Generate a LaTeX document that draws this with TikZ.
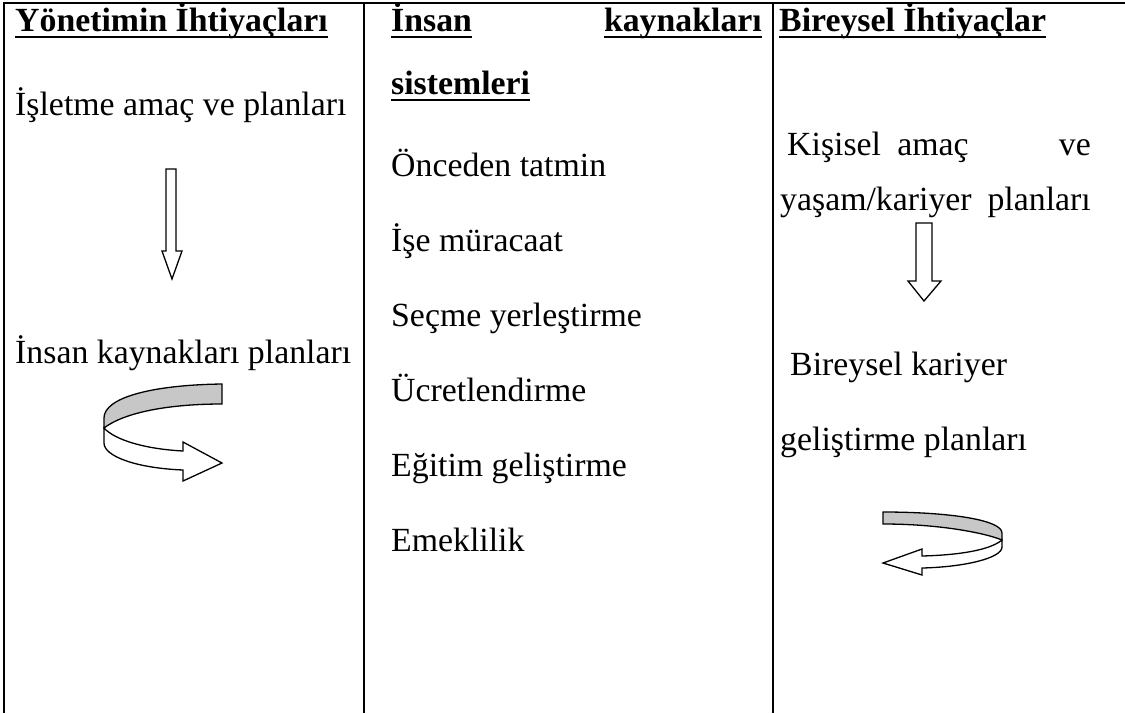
\documentclass[tikz,border=0pt]{standalone}
\usepackage{fontspec}
\setmainfont{Liberation Serif}
\begin{document}
\begin{tikzpicture}[x=1pt,y=-1pt,
  txt/.style={inner sep=0pt,anchor=base west,font=\fontsize{33.8}{40}\selectfont},
  txte/.style={txt,anchor=base east},
  hdr/.style={txt,font=\fontsize{33.8}{40}\selectfont\bfseries},
  hdre/.style={hdr,anchor=base east},
  rule/.style={line width=2.5pt},
  uline/.style={line width=2.6pt},
  arrowbody/.style={draw=black,line width=1.3pt,line join=miter,fill=white},
  ribbonback/.style={draw=black,line width=1.3pt,fill=black!22}]
\useasboundingbox (0,0) rectangle (1125,713);

% table frame
\draw[rule] (3,3) -- (1125,3);
\draw[rule] (4,3) -- (4,713);
\draw[rule] (364,3) -- (364,713);
\draw[rule] (773,3) -- (773,713);

% column 1
\node[hdr] (h1) at (15,31) {Yönetimin İhtiyaçları};
\draw[uline] ([yshift=-6pt]h1.base west) -- ([yshift=-6pt]h1.base east);
\node[txt] (a1) at (15,115) {İşletme amaç ve planları};
\node[txt] (a2) at (15,363) {İnsan kaynakları planları};

\draw[arrowbody] (166,169) -- (176,169) -- (176,251) -- (182,251) -- (172,279)
  -- (162,251) -- (166,251) -- cycle;

\draw[ribbonback] (222,384) .. controls (150,385) and (104,398) .. (104,418)
  -- (104,428) .. controls (125,412) and (170,404) .. (222,404) -- cycle;
\draw[arrowbody] (104,428) .. controls (115,440) and (145,449) .. (183,451)
  -- (183,442) -- (222,463) -- (183,481) -- (183,470)
  .. controls (135,468) and (104,456) .. (104,443) -- cycle;

% column 2
\node[hdr] (h2a) at (391,31) {İnsan};
\node[hdre] (h2b) at (762,31) {kaynakları};
\node[hdr] (h2c) at (391,94) {sistemleri};
\draw[uline] ([yshift=-6pt]h2a.base west) -- ([yshift=-6pt]h2a.base east);
\draw[uline] ([yshift=-6pt]h2b.base west) -- ([yshift=-6pt]h2b.base east);
\draw[uline] ([yshift=-6pt]h2c.base west) -- ([yshift=-6pt]h2c.base east);
\node[txt] (b1) at (391,176) {Önceden tatmin};
\node[txt] (b2) at (391,251) {İşe müracaat};
\node[txt] (b3) at (391,326) {Seçme yerleştirme};
\node[txt] (b4) at (391,401) {Ücretlendirme};
\node[txt] (b5) at (391,476) {Eğitim geliştirme};
\node[txt] (b6) at (391,551) {Emeklilik};

% column 3
\node[hdr] (h3) at (779,31) {Bireysel İhtiyaçlar};
\draw[uline] ([yshift=-6pt]h3.base west) -- ([yshift=-6pt]h3.base east);
\node[txt] (c1a) at (787,155) {Kişisel};
\node[txt,anchor=base] (c1b) at (933,155) {amaç};
\node[txte] (c1c) at (1091,155) {ve};
\node[txt] (c2a) at (780,210) {yaşam/kariyer};
\node[txte] (c2b) at (1091,210) {planları};
\node[txt] (c3) at (790,375) {Bireysel kariyer};
\node[txt] (c4) at (780,450) {geliştirme planları};

\draw[arrowbody] (916,223) -- (932,223) -- (932,281) -- (941,281) -- (924,301)
  -- (908,281) -- (916,281) -- cycle;

\draw[ribbonback] (883,512) .. controls (950,512) and (1002,520) .. (1002,533)
  -- (1002,540) .. controls (985,533) and (940,524) .. (883,524) -- cycle;
\draw[arrowbody] (1002,540) .. controls (990,550) and (960,555) .. (922,556)
  -- (922,549) -- (883,563) -- (922,575) -- (922,568)
  .. controls (965,567) and (1002,558) .. (1002,547) -- cycle;
\end{tikzpicture}
\end{document}
